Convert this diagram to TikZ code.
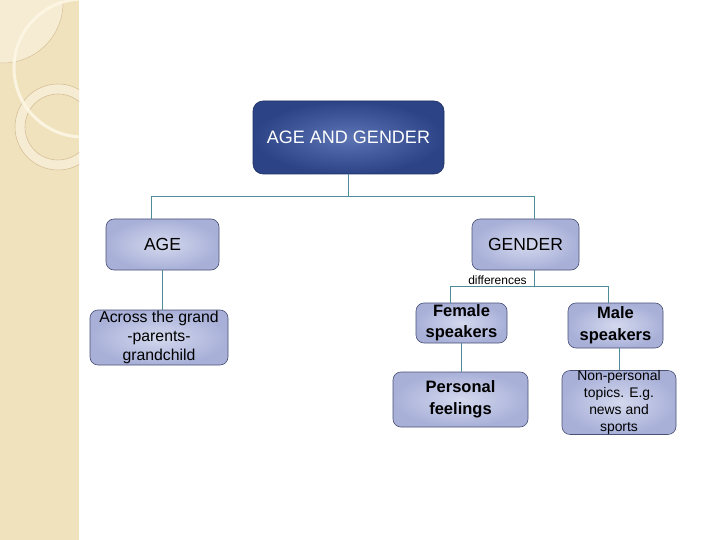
\documentclass[tikz,border=0pt]{standalone}
\usepackage{fontspec}
\setmainfont{Liberation Sans}
\definecolor{panelbg}{RGB}{241,226,190}
\definecolor{panellight}{RGB}{246,236,212}
\definecolor{panelline}{RGB}{214,192,150}
\definecolor{arccream}{RGB}{252,246,228}
\definecolor{topin}{RGB}{92,116,180}
\definecolor{topout}{RGB}{44,68,134}
\definecolor{topline}{RGB}{30,48,100}
\definecolor{boxin}{RGB}{212,217,238}
\definecolor{boxout}{RGB}{168,176,216}
\definecolor{boxline}{RGB}{72,80,118}
\definecolor{connc}{RGB}{78,140,154}
\tikzset{
  topbox/.style={draw=topline, line width=0.6pt, rounded corners=10pt, shade, inner color=topin, outer color=topout, text=white, inner sep=0pt, align=center, font=\fontsize{18}{21}\selectfont},
  lbox/.style={draw=boxline, line width=0.6pt, rounded corners=8pt, shade, inner color=boxin, outer color=boxout, text=black, inner sep=0pt, align=center},
  conn/.style={draw=connc, line width=0.9pt},
}
\begin{document}
\begin{tikzpicture}[x=1pt,y=-1pt]
\useasboundingbox (0,0) rectangle (720,540);
\fill[white] (0,0) rectangle (720,540);
% left decorative panel
\begin{scope}
\clip (0,0) rectangle (79,540);
\fill[panelbg] (0,0) rectangle (79,540);
\fill[panellight, draw=panelline, line width=0.5pt] (3,3) circle[radius=60];
\fill[panellight, even odd rule] (58,127) circle[radius=43] (58,127) circle[radius=33];
\draw[panelline, line width=0.6pt] (58,127) circle[radius=43];
\draw[panelline, line width=0.6pt] (58,127) circle[radius=33];
\draw[arccream, line width=3pt, opacity=0.9] (83,68) circle[radius=69];
\end{scope}
% nodes
\node[topbox, minimum width=191pt, minimum height=73pt] (top) at (348.5,137.5) {AGE AND GENDER};
\node[lbox, minimum width=113pt, minimum height=51pt, font=\fontsize{17.5}{20}\selectfont] (age) at (162.5,244.5) {AGE};
\node[lbox, minimum width=107pt, minimum height=51pt, font=\fontsize{17.5}{20}\selectfont] (gender) at (525.5,244.5) {GENDER};
\node[lbox, minimum width=138pt, minimum height=55pt, font=\fontsize{15.8}{19.2}\selectfont] (across) at (159,337.5) {Across the grand\\-parents-\\grandchild};
\node[lbox, minimum width=91pt, minimum height=40pt, font=\bfseries\fontsize{16.5}{21}\selectfont] (female) at (461.5,323) {Female\\speakers};
\node[lbox, minimum width=95pt, minimum height=45pt, font=\bfseries\fontsize{16.5}{22}\selectfont] (male) at (615.5,325.5) {Male\\speakers};
\node[lbox, minimum width=135pt, minimum height=55pt, font=\bfseries\fontsize{16.5}{22}\selectfont] (personal) at (460.5,399.5) {Personal\\feelings};
\node[lbox, minimum width=114pt, minimum height=61pt, font=\fontsize{13.9}{17}\selectfont] (nonpers) at (619,402.5) {Non-personal\\topics. E.g.\\news and\\sports};
\node[font=\fontsize{12}{14}\selectfont, inner sep=0pt] (diff) at (497.5,280.5) {differences};
% connectors
\coordinate (jL) at (151,196);
\coordinate (jR) at (534,196);
\coordinate (jG) at (534,286);
\coordinate (jF) at (450,286);
\coordinate (jM) at (608,286);
\draw[conn] (top.south) -- (top.south |- jL);
\draw[conn] (age.north -| jL) -- (jL) -- (jR) -- (gender.north -| jR);
\draw[conn] (age.south) -- (age.south |- across.north);
\draw[conn] (gender.south -| jG) -- (jG);
\draw[conn] (female.north -| jF) -- (jF) -- (jM) -- (male.north -| jM);
\draw[conn] (female.south) -- (female.south |- personal.north);
\draw[conn] (nonpers.north) -- (nonpers.north |- male.south);
\end{tikzpicture}
\end{document}
